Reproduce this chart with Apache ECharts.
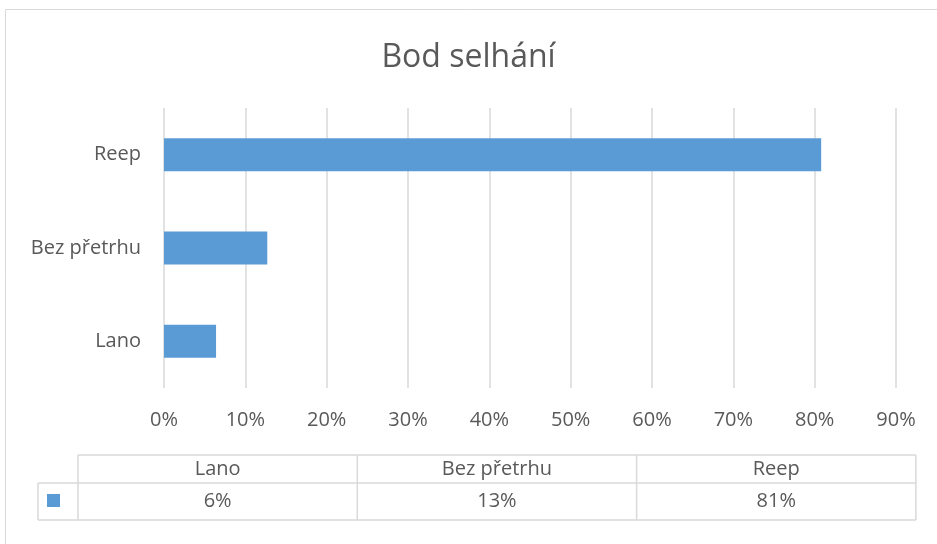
<!DOCTYPE html>
<html>
<head>
<meta charset="utf-8">
<script src="https://cdn.jsdelivr.net/npm/echarts@6/dist/echarts.min.js"></script>
<style>
  html, body { margin: 0; padding: 0; background: #fff; }
  #main { width: 937px; height: 544px; }
</style>
</head>
<body>
<div id="main"></div>
<script>
// data
var categories = ['Lano', 'Bez přetrhu', 'Reep'];
var values = [0.064, 0.127, 0.808];
var xTicks = [0, 0.1, 0.2, 0.3, 0.4, 0.5, 0.6, 0.7, 0.8, 0.9];

var chart = echarts.init(document.getElementById('main'));
var font = '"Open Sans", "Noto Sans", sans-serif';
var textColor = '#595959';
var lineColor = '#d9d9d9';
var fs = 20;

function pct(v) {
  return Math.round(v * 100) + '%';
}

// data table under the chart
var tblLeft = 78, keyLeft = 38, colW = 279.3;
var rowTop = 455, rowMid = 483, rowBot = 520;
var tblRight = tblLeft + colW * categories.length;
var graphics = [
  // outer chart border
  { type: 'rect', shape: { x: 5.5, y: 9.5, width: 960, height: 560 },
    style: { fill: null, stroke: lineColor, lineWidth: 1 } },
  { type: 'line', shape: { x1: tblLeft, y1: rowTop, x2: tblRight, y2: rowTop }, style: { stroke: lineColor, lineWidth: 1.5 } },
  { type: 'line', shape: { x1: keyLeft, y1: rowMid, x2: tblRight, y2: rowMid }, style: { stroke: lineColor, lineWidth: 1.5 } },
  { type: 'line', shape: { x1: keyLeft, y1: rowBot, x2: tblRight, y2: rowBot }, style: { stroke: lineColor, lineWidth: 1.5 } },
  { type: 'line', shape: { x1: keyLeft, y1: rowMid, x2: keyLeft, y2: rowBot }, style: { stroke: lineColor, lineWidth: 1.5 } },
  { type: 'rect', shape: { x: 47, y: 494, width: 13, height: 13 }, style: { fill: '#5b9bd5' } }
];
for (var i = 0; i <= categories.length; i++) {
  var x = tblLeft + colW * i;
  graphics.push({ type: 'line', shape: { x1: x, y1: rowTop, x2: x, y2: rowBot }, style: { stroke: lineColor, lineWidth: 1.5 } });
}
categories.forEach(function (c, i) {
  var cx = tblLeft + colW * i + colW / 2;
  graphics.push({ type: 'text', x: cx, y: (rowTop + rowMid) / 2,
    style: { text: c, fill: textColor, font: fs + 'px ' + font, textAlign: 'center', textVerticalAlign: 'middle' } });
  graphics.push({ type: 'text', x: cx, y: (rowMid + rowBot) / 2,
    style: { text: pct(values[i]), fill: textColor, font: fs + 'px ' + font, textAlign: 'center', textVerticalAlign: 'middle' } });
});

var option = {
  backgroundColor: '#fff',
  animation: false,
  title: {
    text: 'Bod selhání',
    left: 'center',
    top: 37,
    textStyle: { fontFamily: font, fontSize: 32, fontWeight: 'normal', color: textColor }
  },
  grid: { left: 164, right: 41, top: 108, bottom: 156 },
  xAxis: {
    type: 'value',
    min: 0,
    max: xTicks[xTicks.length - 1],
    interval: 0.1,
    axisLine: { show: false },
    axisTick: { show: false },
    splitLine: { show: true, lineStyle: { color: lineColor, width: 1.5 } },
    axisLabel: {
      margin: 22,
      color: textColor,
      fontFamily: font,
      fontSize: fs,
      formatter: function (v) { return pct(v); }
    }
  },
  yAxis: {
    type: 'category',
    data: categories,
    axisLine: { show: false },
    axisTick: { show: false },
    axisLabel: { margin: 23, color: textColor, fontFamily: font, fontSize: fs }
  },
  series: [{
    type: 'bar',
    data: values,
    barWidth: 33,
    itemStyle: { color: '#5b9bd5' }
  }],
  graphic: graphics
};
chart.setOption(option);
</script>
</body>
</html>
